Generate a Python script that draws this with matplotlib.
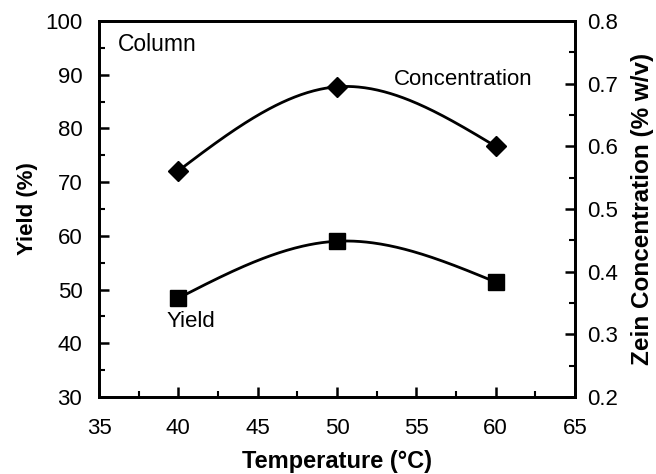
import numpy as np
import matplotlib
matplotlib.use('Agg')
import matplotlib.pyplot as plt
from matplotlib.ticker import MultipleLocator

plt.rcParams['font.family'] = ['Liberation Sans', 'DejaVu Sans']

# Data
temperature = [40, 50, 60]
yield_pct = [48.4, 59.0, 51.4]
concentration = [0.561, 0.695, 0.600]


def natural_spline(x, y, n=200):
    # natural cubic spline through the points (like the smooth line in the plot)
    x = np.asarray(x, float)
    y = np.asarray(y, float)
    k = len(x)
    h = np.diff(x)
    A = np.zeros((k, k))
    b = np.zeros(k)
    A[0, 0] = A[-1, -1] = 1.0
    for i in range(1, k - 1):
        A[i, i - 1] = h[i - 1]
        A[i, i] = 2 * (h[i - 1] + h[i])
        A[i, i + 1] = h[i]
        b[i] = 6 * ((y[i + 1] - y[i]) / h[i] - (y[i] - y[i - 1]) / h[i - 1])
    M = np.linalg.solve(A, b)
    xs = np.linspace(x[0], x[-1], n)
    ys = np.empty_like(xs)
    for j, xv in enumerate(xs):
        i = min(np.searchsorted(x, xv, side='right') - 1, k - 2)
        t1 = x[i + 1] - xv
        t0 = xv - x[i]
        ys[j] = (M[i] * t1**3 + M[i + 1] * t0**3) / (6 * h[i]) \
            + (y[i] / h[i] - M[i] * h[i] / 6) * t1 \
            + (y[i + 1] / h[i] - M[i + 1] * h[i] / 6) * t0
    return xs, ys


fig = plt.figure(figsize=(6.56, 4.74), dpi=100)
ax = fig.add_axes([99 / 656, 77 / 474, 476 / 656, 376 / 474])
ax2 = ax.twinx()

xs, ys = natural_spline(temperature, yield_pct)
ax.plot(xs, ys, color='black', lw=2)
ax.plot(temperature, yield_pct, 's', color='black', ms=12)

xs, cs = natural_spline(temperature, concentration)
ax2.plot(xs, cs, color='black', lw=2)
ax2.plot(temperature, concentration, 'D', color='black', ms=10)

ax.set_xlim(35, 65)
ax.set_ylim(30, 100)
ax2.set_ylim(0.2, 0.8)

ax.xaxis.set_major_locator(MultipleLocator(5))
ax.xaxis.set_minor_locator(MultipleLocator(2.5))
ax.yaxis.set_major_locator(MultipleLocator(10))
ax.yaxis.set_minor_locator(MultipleLocator(5))
ax2.yaxis.set_major_locator(MultipleLocator(0.1))
ax2.yaxis.set_minor_locator(MultipleLocator(0.05))

for a in (ax, ax2):
    for s in a.spines.values():
        s.set_linewidth(2)
    a.tick_params(which='major', direction='in', length=7.5, width=1.8, labelsize=16)
    a.tick_params(which='minor', direction='in', length=4.5, width=1.5)
ax.tick_params(axis='both', which='both', top=False, right=False)
ax.tick_params(axis='x', pad=15)
ax.tick_params(axis='y', pad=12)
ax2.tick_params(axis='y', pad=9)
ax2.yaxis.set_major_formatter(plt.FuncFormatter(lambda v, p: f'{v:.1f}'))

ax.set_xlabel('Temperature (°C)', fontsize=17, fontweight='bold', labelpad=8)
ax.set_ylabel('Yield (%)', fontsize=16, fontweight='bold', labelpad=5)
ax2.set_ylabel('Zein Concentration (% w/v)', fontsize=17.5, fontweight='bold', labelpad=9)

ax.text(40.8, 44.0, 'Yield', fontsize=16, ha='center', va='center')
ax.text(36.2, 95.7, 'Column', fontsize=16.5, ha='left', va='center')
ax2.text(62.35, 0.707, 'Concentration', fontsize=16, ha='right', va='center')

fig.savefig('out.png', dpi=100)
